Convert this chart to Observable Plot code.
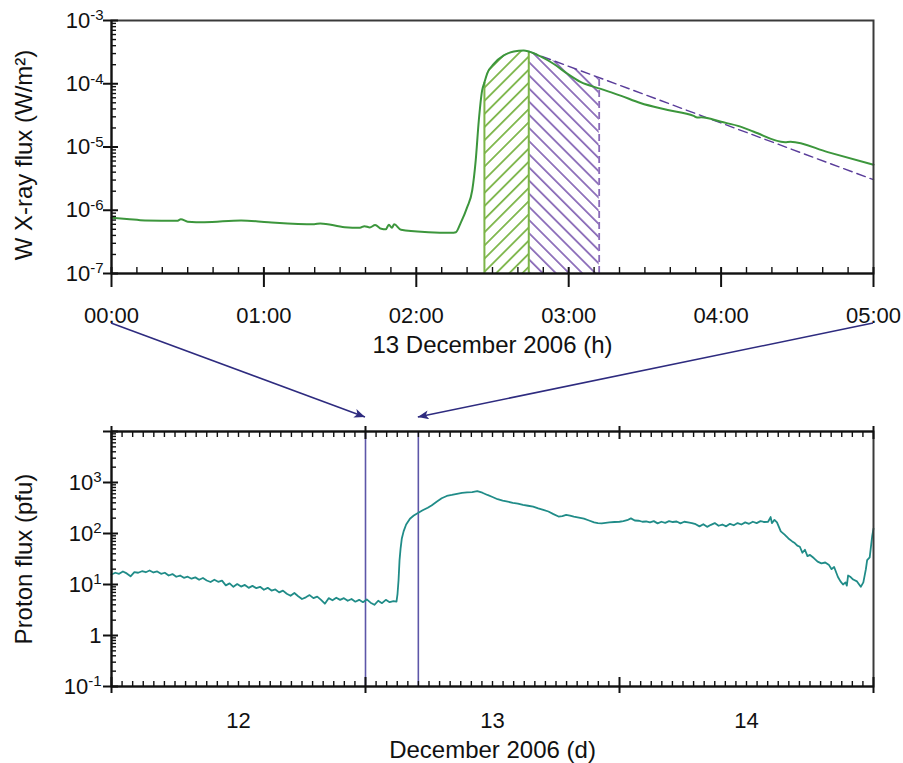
<!DOCTYPE html>
<html><head><meta charset="utf-8">
<script src="https://cdn.jsdelivr.net/npm/d3@7"></script>
<script src="https://cdn.jsdelivr.net/npm/@observablehq/plot@0.6"></script>
<style>
body{margin:0;background:#fff;}
#wrap{position:relative;width:903px;height:763px;font-family:"Liberation Sans",Arial,Helvetica,sans-serif;}
#wrap svg{position:absolute;left:0;}
</style></head><body><div id="wrap"></div>
<script>
// ---------- data ----------
const hourTicks = [0, 1, 2, 3, 4, 5];
const hourLabels = ["00:00", "01:00", "02:00", "03:00", "04:00", "05:00"];
const dayTicks = [12, 13, 14, 15];
const dayLabelPos = [12.5, 13.5, 14.5];
const dayLabels = ["12", "13", "14"];
const xrayDecades = [1e-7, 1e-6, 1e-5, 1e-4, 1e-3];
const xrayDecadeLabels = ["10^-7", "10^-6", "10^-5", "10^-4", "10^-3"];
const protonDecades = [0.1, 1, 10, 100, 1000, 10000];
const protonLabelValues = [0.1, 1, 10, 100, 1000];
const protonDecadeLabels = ["10^-1", "1", "10^1", "10^2", "10^3"];
const xTitleTop = "13 December 2006 (h)";
const yTitleTop = "W X-ray flux (W/m²)";
const xTitleBottom = "December 2006 (d)";
const yTitleBottom = "Proton flux (pfu)";

// GOES X-ray flux (hours after 13 Dec 00:00, W/m^2)
const xrayHours = [0, 0.10, 0.22, 0.43, 0.455, 0.50, 0.61, 0.85, 1.03, 1.33, 1.37, 1.53, 1.63, 1.66, 1.695, 1.73, 1.77, 1.80, 1.82, 1.84, 1.855, 1.90, 2.08, 2.23, 2.26, 2.29, 2.334, 2.367, 2.39, 2.41, 2.432, 2.447, 2.465, 2.51, 2.574, 2.64, 2.705, 2.738, 2.815, 2.90, 2.99, 3.077, 3.21, 3.34, 3.47, 3.65, 3.82, 3.843, 3.87, 4.0, 4.127, 4.215, 4.42, 4.455, 4.7, 5.0];
const xrayFlux = [7.6e-7, 7.3e-7, 6.9e-7, 6.8e-7, 7.2e-7, 6.6e-7, 6.45e-7, 6.9e-7, 6.45e-7, 6.0e-7, 6.2e-7, 5.4e-7, 5.3e-7, 5.6e-7, 5.35e-7, 5.85e-7, 5.1e-7, 5.0e-7, 5.9e-7, 5.3e-7, 6.0e-7, 4.9e-7, 4.5e-7, 4.4e-7, 4.5e-7, 6.2e-7, 1.12e-6, 2.07e-6, 6.2e-6, 2.6e-5, 7.85e-5, 1.05e-4, 1.45e-4, 2.07e-4, 2.8e-4, 3.24e-4, 3.36e-4, 3.24e-4, 2.7e-4, 2.07e-4, 1.45e-4, 1.07e-4, 8.3e-5, 6.5e-5, 4.95e-5, 3.85e-5, 3.1e-5, 2.92e-5, 2.95e-5, 2.5e-5, 2.1e-5, 1.74e-5, 1.19e-5, 1.21e-5, 8.3e-6, 5.25e-6];
// integration windows (hours)
const riseWindow = [2.447, 2.738];
const decayWindowEnd = 3.20;
// exponential-decay fit (dashed)
const fitHours = [2.738, 5.0];
const fitFlux = [3.24e-4, 3.04e-6];
const fitFluxAtWindowEnd = 1.22e-4;

// proton flux [day of December 2006, pfu]
const protonReadings = [
 [12.000,15.7],[12.015,17.0],[12.030,16.2],[12.045,18.0],[12.060,16.5],[12.075,14.5],[12.090,17.5],[12.105,17.0],[12.120,18.2],[12.135,17.4],
 [12.150,18.8],[12.165,17.2],[12.180,18.0],[12.195,16.2],[12.210,17.0],[12.225,15.0],[12.240,16.0],[12.255,14.2],[12.270,15.0],[12.285,13.5],
 [12.300,14.2],[12.315,13.0],[12.330,13.8],[12.345,12.4],[12.360,13.4],[12.375,12.0],[12.390,11.2],[12.405,12.4],[12.420,11.3],[12.435,11.9],
 [12.450,9.6],[12.465,10.5],[12.480,9.0],[12.495,10.2],[12.510,9.1],[12.525,9.8],[12.540,8.6],[12.555,9.4],[12.570,8.5],[12.585,9.0],
 [12.600,7.9],[12.615,8.6],[12.630,7.6],[12.645,8.0],[12.660,7.0],[12.675,7.6],[12.690,6.6],[12.705,6.0],[12.720,6.8],[12.735,5.9],
 [12.750,5.2],[12.765,5.6],[12.780,6.2],[12.795,5.4],[12.810,5.8],[12.825,5.0],[12.840,4.2],[12.855,5.4],[12.870,4.9],[12.885,5.5],
 [12.900,5.0],[12.915,5.4],[12.930,4.8],[12.945,5.2],[12.960,4.6],[12.975,5.0],[12.990,4.5],[13.005,5.1],[13.020,4.4],[13.035,4.0],
 [13.050,4.8],[13.065,4.3],[13.080,5.0],[13.095,4.5],[13.110,4.7],[13.122,4.6],[13.126,6.5],[13.130,12],[13.134,30],[13.138,50],
 [13.143,80],[13.150,110],[13.160,150],[13.175,195],[13.190,225],[13.205,250],[13.225,285],[13.245,320],[13.260,355],[13.280,420],
 [13.300,490],[13.320,545],[13.340,570],[13.360,600],[13.380,625],[13.400,640],[13.420,650],[13.440,675],[13.460,630],[13.480,570],
 [13.500,520],[13.520,470],[13.540,440],[13.560,420],[13.580,400],[13.600,385],[13.620,365],[13.640,350],[13.660,335],[13.680,310],
 [13.700,290],[13.720,270],[13.740,240],[13.760,215],[13.775,220],[13.790,232],[13.805,225],[13.820,215],[13.840,205],[13.860,195],
 [13.880,180],[13.900,165],[13.915,160],[13.930,158],[13.960,165],[13.980,168],[14.000,170],[14.015,175],[14.030,182],[14.045,198],
 [14.060,180],[14.075,178],[14.090,170],[14.105,172],[14.120,165],[14.135,175],[14.150,158],[14.165,170],[14.180,162],[14.195,175],
 [14.210,168],[14.225,172],[14.240,158],[14.255,170],[14.270,165],[14.285,160],[14.300,152],[14.315,138],[14.330,152],[14.345,135],
 [14.360,148],[14.375,160],[14.390,142],[14.405,150],[14.420,138],[14.435,155],[14.450,145],[14.465,160],[14.480,150],[14.495,165],
 [14.510,155],[14.525,170],[14.540,160],[14.555,175],[14.570,168],[14.585,170],[14.595,210],[14.600,160],[14.610,185],[14.620,165],
 [14.635,110],[14.650,95],[14.665,80],[14.680,70],[14.690,65],[14.700,58],[14.710,55],[14.720,42],[14.730,48],[14.740,36],
 [14.750,38],[14.765,33],[14.780,28],[14.795,26],[14.810,27],[14.825,24],[14.835,20],[14.845,22],[14.860,14],[14.870,11.5],
 [14.880,10.0],[14.890,11.0],[14.895,9.5],[14.900,15],[14.910,14],[14.920,12.5],[14.935,11.5],[14.950,9],[14.960,11],[14.970,20],
 [14.975,30],[14.985,34],[14.995,90],[15.000,125]
];
// 13 Dec 00:00 – 05:00 window marked in the proton panel
const eventWindow = [13.0, 13.208];

// ---------- style ----------
const FONT = '"Liberation Sans", Arial, Helvetica, sans-serif';
const C = {
  xray: "#3c963c", hatchG: "#7cb548", hatchP: "#8a6bb8", fit: "#5a3d9a",
  proton: "#208c88", window: "#5d56a8", arrow: "#2e2b7f", axis: "#111", frame: "#3a3a3a"
};
const W = 903;

const xray = xrayHours.map((t, i) => ({t, v: xrayFlux[i]}));
const riseArea = xray.filter(d => d.t >= riseWindow[0] && d.t <= riseWindow[1]);
const riseEdges = riseWindow.map(t => xray.find(d => d.t === t));
const fit = fitHours.map((t, i) => ({t, v: fitFlux[i]}));
const decayArea = [{t: fitHours[0], v: fitFlux[0]}, {t: decayWindowEnd, v: fitFluxAtWindowEnd}];

const range = (a, b, n) => d3.range(n + 1).map(i => a + (b - a) * i / n);
const topMinorX = range(0, 5, 30).filter((d, i) => i % 6 !== 0);
const botMinorX = range(12, 15, 72).filter((d, i) => i % 24 !== 0);
const minorLog = (lo, hi) => d3.range(lo, hi).flatMap(e => d3.range(2, 10).map(m => m * Math.pow(10, e)));

const defsMark = () => {
  const ns = "http://www.w3.org/2000/svg";
  const g = document.createElementNS(ns, "defs");
  g.innerHTML =
    `<pattern id="hatchGreen" patternUnits="userSpaceOnUse" width="9.3" height="9.3" patternTransform="rotate(45)">
       <line x1="4.6" y1="-1" x2="4.6" y2="10.3" stroke="${C.hatchG}" stroke-width="1.8"/></pattern>
     <pattern id="hatchPurple" patternUnits="userSpaceOnUse" width="9.3" height="9.3" patternTransform="rotate(-45)">
       <line x1="4.6" y1="-1" x2="4.6" y2="10.3" stroke="${C.hatchP}" stroke-width="1.8"/></pattern>`;
  return g;
};

const tickOnly = {tickFormat: () => "", label: null, stroke: C.axis};
const title = {text: d => d, fontSize: 24, fill: "#111", textAnchor: "middle", lineAnchor: "middle"};

// ---------- top panel ----------
const TOP_H = 400;
const topChart = Plot.plot({
  width: W, height: TOP_H,
  marginLeft: 111, marginRight: 30, marginTop: 20, marginBottom: TOP_H - 273,
  style: {fontFamily: FONT, fontSize: "22px", background: "transparent", color: "#111"},
  x: {domain: [0, 5]},
  y: {type: "log", domain: [1e-7, 1e-3]},
  marks: [
    defsMark,
    Plot.areaY(riseArea, {x: "t", y1: 1e-7, y2: "v", fill: "url(#hatchGreen)", curve: "monotone-x"}),
    Plot.areaY(decayArea, {x: "t", y1: 1e-7, y2: "v", fill: "url(#hatchPurple)"}),
    Plot.ruleX(riseEdges, {x: "t", y1: 1e-7, y2: "v", stroke: C.hatchG, strokeWidth: 2}),
    Plot.ruleX([{t: decayWindowEnd, v: fitFluxAtWindowEnd}], {x: "t", y1: 1e-7, y2: "v", stroke: C.hatchP, strokeWidth: 1.8, strokeDasharray: "7,4"}),
    Plot.line(fit, {x: "t", y: "v", stroke: C.fit, strokeWidth: 1.4, strokeDasharray: "9,5"}),
    Plot.line(xray, {x: "t", y: "v", stroke: C.xray, strokeWidth: 2, curve: "monotone-x"}),
    Plot.frame({stroke: C.frame, strokeWidth: 2}),
    Plot.ruleX([0], {stroke: C.axis, strokeWidth: 2}),
    Plot.ruleY([1e-7], {stroke: C.axis, strokeWidth: 2}),
    Plot.axisX(topMinorX, {...tickOnly, tickSize: 6, dy: -6, strokeWidth: 1.4}),
    Plot.axisX(hourTicks, {...tickOnly, tickSize: 20, dy: -6, strokeWidth: 2}),
    Plot.axisX(hourTicks, {tickSize: 0, tickPadding: 34, label: null, fontSize: 22, fill: "#111",
      tickFormat: d => hourLabels[hourTicks.indexOf(d)]}),
    Plot.axisY(minorLog(-7, -3), {...tickOnly, tickSize: 5, dx: 5, strokeWidth: 1.4}),
    Plot.axisY(xrayDecades, {...tickOnly, tickSize: 15, dx: 7, strokeWidth: 2}),
    Plot.axisY(xrayDecades, {tickSize: 0, tickPadding: 8, label: null, fontSize: 22, fill: "#111",
      tickFormat: d => xrayDecadeLabels[xrayDecades.indexOf(d)]}),
    Plot.text([xTitleTop], {...title, frameAnchor: "bottom", dy: 72}),
    Plot.text([yTitleTop], {...title, frameAnchor: "left", dx: -87, dy: 8, rotate: -90})
  ]
});

// ---------- bottom panel ----------
const BOT_TOP = 400, BOT_H = 363;
const botChart = Plot.plot({
  width: W, height: BOT_H,
  marginLeft: 111, marginRight: 30, marginTop: 31, marginBottom: BOT_H - 286,
  style: {fontFamily: FONT, fontSize: "22px", background: "transparent", color: "#111"},
  x: {domain: [12, 15]},
  y: {type: "log", domain: [0.1, 1e4]},
  marks: [
    Plot.ruleX(eventWindow, {stroke: C.window, strokeWidth: 1.6}),
    Plot.line(protonReadings, {x: d => d[0], y: d => d[1], stroke: C.proton, strokeWidth: 1.8}),
    Plot.frame({stroke: C.frame, strokeWidth: 2}),
    Plot.ruleX([12], {stroke: C.axis, strokeWidth: 2}),
    Plot.ruleY([0.1], {stroke: C.axis, strokeWidth: 2}),
    Plot.ruleY([1e4], {stroke: C.axis, strokeWidth: 2}),
    Plot.axisX(botMinorX, {...tickOnly, tickSize: 5, dy: -5, strokeWidth: 1.4}),
    Plot.axisX(dayTicks, {...tickOnly, tickSize: 16, dy: -9, strokeWidth: 2}),
    Plot.axisX(botMinorX, {...tickOnly, anchor: "top", tickSize: 5, dy: 5, strokeWidth: 1.4}),
    Plot.axisX(dayTicks, {...tickOnly, anchor: "top", tickSize: 13, dy: 7, strokeWidth: 2}),
    Plot.axisX(dayLabelPos, {tickSize: 0, tickPadding: 26, label: null, fontSize: 22, fill: "#111",
      tickFormat: d => dayLabels[dayLabelPos.indexOf(d)]}),
    Plot.axisY(minorLog(-1, 4), {...tickOnly, tickSize: 5, dx: 5, strokeWidth: 1.4}),
    Plot.axisY(protonDecades, {...tickOnly, tickSize: 15, dx: 7, strokeWidth: 2}),
    Plot.axisY(protonLabelValues, {tickSize: 0, tickPadding: 10, label: null, fontSize: 22, fill: "#111",
      tickFormat: d => protonDecadeLabels[protonLabelValues.indexOf(d)]}),
    Plot.text([xTitleBottom], {...title, frameAnchor: "bottom", dy: 64}),
    Plot.text([yTitleBottom], {...title, frameAnchor: "left", dx: -87, rotate: -90})
  ]
});

// superscript exponents in log tick labels
function superscripts(svg) {
  d3.select(svg).selectAll('g[aria-label="y-axis tick label"] text').each(function () {
    const m = this.textContent.match(/^(\d+)\^(.+)$/);
    if (!m) return;
    const t = d3.select(this);
    t.text(null);
    t.append("tspan").text(m[1]);
    t.append("tspan").attr("dy", "-0.48em").attr("font-size", "15px").text(m[2]);
  });
}
superscripts(topChart);
superscripts(botChart);

const wrap = document.getElementById("wrap");
topChart.style.top = "0px";
botChart.style.top = BOT_TOP + "px";
wrap.appendChild(topChart);
wrap.appendChild(botChart);

// ---------- zoom arrows (positions from the two charts' scales) ----------
const xT = topChart.scale("x"), xB = botChart.scale("x");
const yStart = 273 + 50;
const yEnd = BOT_TOP + 31 - 14;
const arrows = [
  {x1: xT.apply(hourTicks[0]), x2: xB.apply(eventWindow[0])},
  {x1: xT.apply(hourTicks[hourTicks.length - 1]), x2: xB.apply(eventWindow[1])}
];
const ov = d3.select(wrap).append("svg").attr("width", W).attr("height", 763)
  .style("top", "0px").style("pointer-events", "none");
ov.append("defs").append("marker").attr("id", "ah").attr("viewBox", "0 0 12 10")
  .attr("refX", 12).attr("refY", 5).attr("markerWidth", 13).attr("markerHeight", 9)
  .attr("markerUnits", "userSpaceOnUse").attr("orient", "auto")
  .append("path").attr("d", "M0,0 L12,5 L0,10 L3,5 z").attr("fill", C.arrow);
ov.selectAll("line").data(arrows).join("line")
  .attr("x1", d => d.x1).attr("y1", yStart).attr("x2", d => d.x2).attr("y2", yEnd)
  .attr("stroke", C.arrow).attr("stroke-width", 1.5).attr("marker-end", "url(#ah)");
</script></body></html>
